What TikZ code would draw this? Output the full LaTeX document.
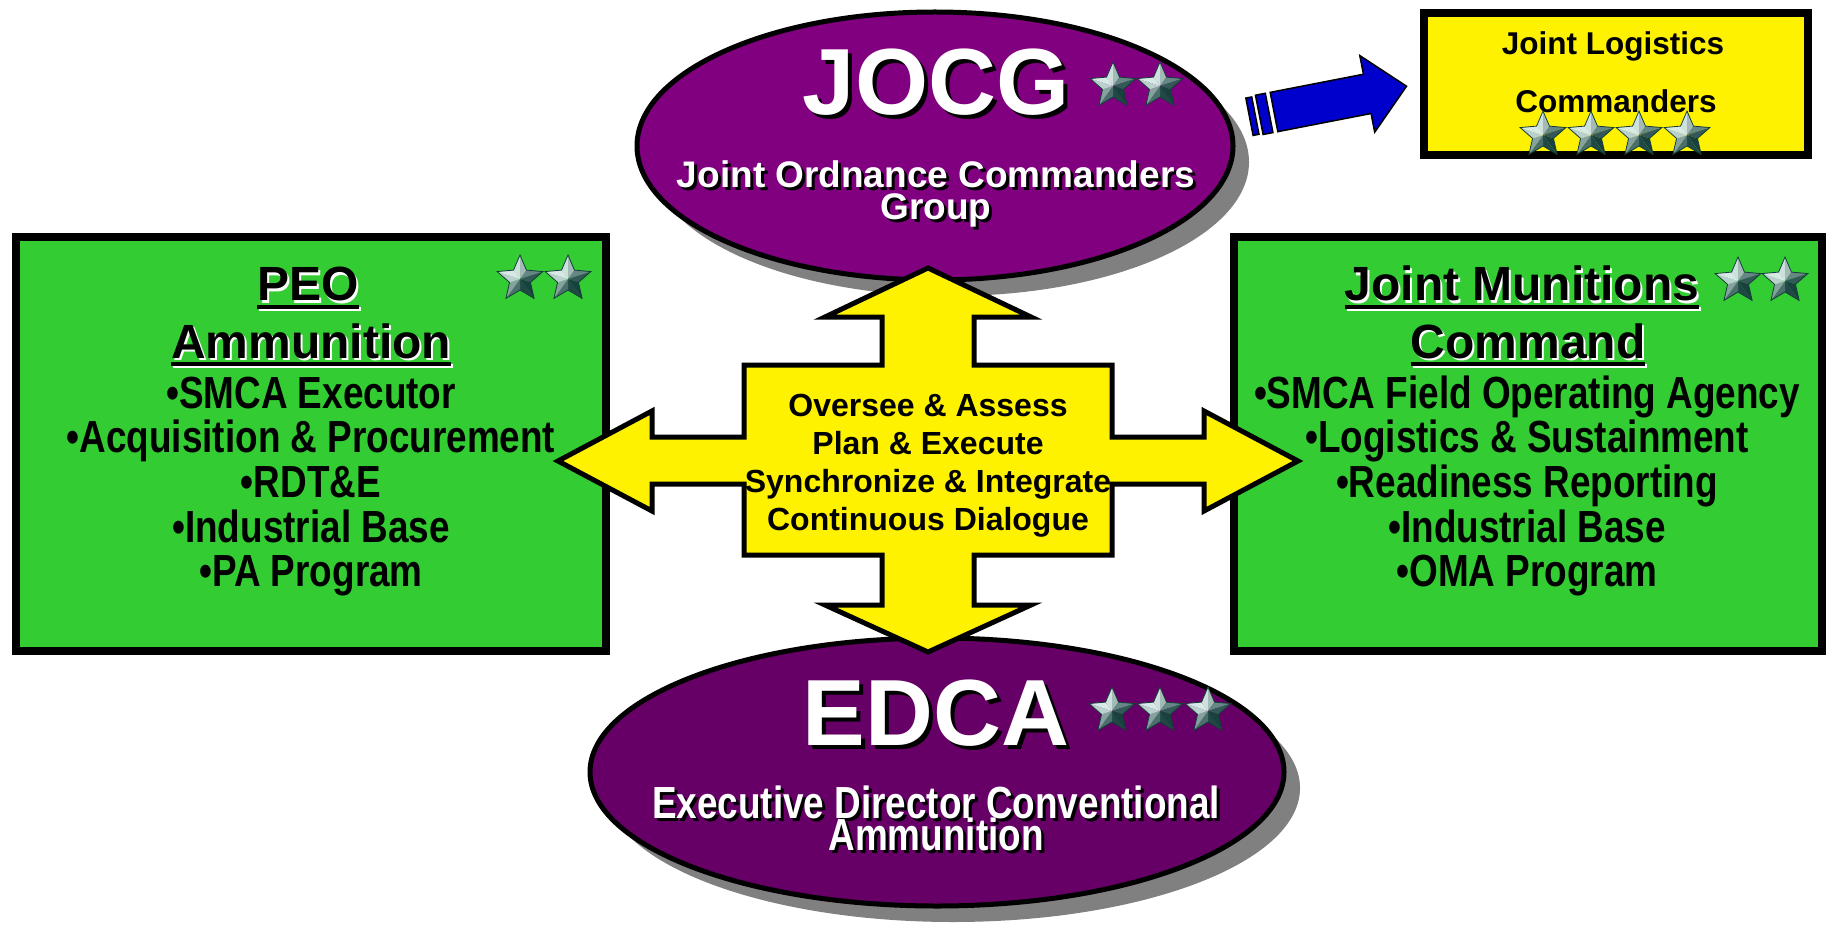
\documentclass[tikz,border=0pt]{standalone}
\usepackage{fontspec}
\setmainfont{Liberation Sans}
\newfontfamily\narrowfont[FakeStretch=0.82]{Liberation Sans}
\definecolor{jpurple}{HTML}{800080}
\definecolor{epurple}{HTML}{660066}
\definecolor{boxgreen}{HTML}{33CC33}
\definecolor{shadowgray}{HTML}{808080}
\definecolor{arrowblue}{HTML}{0000CC}
\definecolor{starlight}{HTML}{DDEEEB}
\definecolor{stardark}{HTML}{123D39}
\newcommand\ulbox[1]{\setbox0=\hbox{#1}\rlap{\rule[-0.17em]{\wd0}{0.08em}}\box0}
\newcommand\jfBig{\fontsize{94}{94}\selectfont\bfseries}
\newcommand\jfSub{\fontsize{37}{37}\selectfont\bfseries}
\newcommand\jfTitle{\fontsize{48}{48}\selectfont\bfseries}
\newcommand\jfBul{\narrowfont\fontsize{45}{45}\selectfont\bfseries}
\newcommand\jfMid{\fontsize{32}{32}\selectfont\bfseries}
\newcommand\jfJL{\fontsize{31.5}{31.5}\selectfont\bfseries}
% name, position, offset, shadow colour, text colour, font, text
\newcommand\shtext[7]{%
  \node[anchor=base,font={#6},text=#4,xshift=#3,yshift=-#3] (#1s) at (#2) {#7};
  \node[anchor=base,font={#6},text=#5] (#1) at (#2) {#7};}
\tikzset{
  gstar/.pic={
    \foreach \k in {0,...,4}{
      \pgfmathsetmacro\ang{-90+72*\k}
      \pgfmathsetmacro\bA{int(50+48*cos(\ang-18-225))}
      \pgfmathsetmacro\bB{int(50+48*cos(\ang+18-225))}
      \fill[starlight!\bA!stardark] (0,0) -- (\ang:24) -- ({\ang-36}:11) -- cycle;
      \fill[starlight!\bB!stardark] (0,0) -- (\ang:24) -- ({\ang+36}:11) -- cycle;
    }
    \draw[stardark,line width=0.8pt,line join=miter] (-90:24)
      \foreach \k in {1,...,5}{ -- ({-90+72*\k-36}:11) -- ({-90+72*\k}:24)} -- cycle;
  },
  boxframe/.style={draw=black,line width=8pt,line join=miter},
  ovalframe/.style={draw=black,line width=5pt},
  bul/.style={anchor=base,font=\jfBul,text=black},
  mid/.style={anchor=base,font=\jfMid,text=black},
}
\begin{document}
\begin{tikzpicture}[x=1pt,y=-1pt,every node/.style={inner sep=0pt,outer sep=0pt}]
\useasboundingbox[fill=white] (0,0) rectangle (1833,925);

% ellipse shadows and ellipses
\fill[shadowgray] (951,162) ellipse [x radius=298, y radius=134];
\fill[jpurple, ovalframe] (935,146) ellipse [x radius=298, y radius=134];
\fill[shadowgray] (953,788) ellipse [x radius=347, y radius=134];
\fill[epurple, ovalframe] (937,772) ellipse [x radius=347, y radius=134];

% boxes
\filldraw[fill=boxgreen, boxframe] (16,237) rectangle (606,651);
\filldraw[fill=boxgreen, boxframe] (1234,237) rectangle (1822,651);
\filldraw[fill=yellow, boxframe] (1424,13) rectangle (1808,155);

% blue arrow
\begin{scope}[shift={(1274,112)}, rotate=11]
  \filldraw[fill=arrowblue, draw=black, line width=1.5pt, line join=miter]
    (0,-20) -- (95,-20) -- (95,-39) -- (135,0) -- (95,39) -- (95,20) -- (0,20) -- cycle;
  \filldraw[fill=arrowblue, draw=black, line width=1.5pt] (-15,-20) rectangle (-5,20);
  \filldraw[fill=arrowblue, draw=black, line width=1.5pt] (-25,-19) rectangle (-19,19);
\end{scope}

% quad arrow
\filldraw[fill=yellow, draw=black, line width=5pt, line join=miter]
  (928,268) -- (1031,317) -- (974,317) -- (974,365) -- (1112,365) -- (1112,437)
  -- (1204,437) -- (1204,411) -- (1298,461) -- (1204,511) -- (1204,484)
  -- (1112,484) -- (1112,555) -- (974,555) -- (974,605) -- (1031,605)
  -- (928,652) -- (825,605) -- (882,605) -- (882,555) -- (744,555)
  -- (744,484) -- (652,484) -- (652,511) -- (558,461) -- (652,411)
  -- (652,437) -- (744,437) -- (744,365) -- (882,365) -- (882,317)
  -- (825,317) -- cycle;

% JOCG texts
\shtext{jocg}{936,115}{4pt}{black}{white}{\jfBig}{JOCG}
\shtext{jocgA}{936,188}{3pt}{black}{white}{\jfSub}{Joint Ordnance Commanders}
\shtext{jocgB}{936,220}{3pt}{black}{white}{\jfSub}{Group}

% EDCA texts
\shtext{edca}{936,745}{4pt}{black}{white}{\jfBig}{EDCA}
\shtext{edcaA}{936,818}{3pt}{black}{white}{\jfBul}{Executive Director Conventional}
\shtext{edcaB}{936,850}{3pt}{black}{white}{\jfBul}{Ammunition}

% PEO box texts
\shtext{peoA}{308,301}{2pt}{white}{black}{\jfTitle}{\ulbox{PEO}}
\shtext{peoB}{311,358}{2pt}{white}{black}{\jfTitle}{\ulbox{Ammunition}}
\node[bul] (peo1) at (311,408) {•SMCA Executor};
\node[bul] (peo2) at (311,452) {•Acquisition \& Procurement};
\node[bul] (peo3) at (311,497) {•RDT\&E};
\node[bul] (peo4) at (311,542) {•Industrial Base};
\node[bul] (peo5) at (311,586) {•PA Program};

% JMC box texts
\shtext{jmcA}{1522,301}{2pt}{white}{black}{\jfTitle}{\ulbox{Joint Munitions}}
\shtext{jmcB}{1528,358}{2pt}{white}{black}{\jfTitle}{\ulbox{Command}}
\node[bul] (jmc1) at (1527,408) {•SMCA Field Operating Agency};
\node[bul] (jmc2) at (1527,452) {•Logistics \& Sustainment};
\node[bul] (jmc3) at (1527,497) {•Readiness Reporting};
\node[bul] (jmc4) at (1527,542) {•Industrial Base};
\node[bul] (jmc5) at (1527,586) {•OMA Program};

% center texts
\node[mid] (c1) at (928,416) {Oversee \& Assess};
\node[mid] (c2) at (928,454) {Plan \& Execute};
\node[mid] (c3) at (928,492) {Synchronize \& Integrate};
\node[mid] (c4) at (928,530) {Continuous Dialogue};

% Joint Logistics Commanders
\node[anchor=base,font=\jfJL] (jl1) at (1613,55) {Joint Logistics};
\node[anchor=base,font=\jfJL] (jl2) at (1616,113) {Commanders};

% stars
\pic at (1113,86) {gstar};
\pic at (1160,86) {gstar};
\pic at (1112,711) {gstar};
\pic at (1160,711) {gstar};
\pic at (1208,711) {gstar};
\pic at (520,279) {gstar};
\pic at (568,279) {gstar};
\pic at (1738,281) {gstar};
\pic at (1785,281) {gstar};
\pic at (1543,135) {gstar};
\pic at (1591,135) {gstar};
\pic at (1639,135) {gstar};
\pic at (1687,135) {gstar};
\end{tikzpicture}
\end{document}
